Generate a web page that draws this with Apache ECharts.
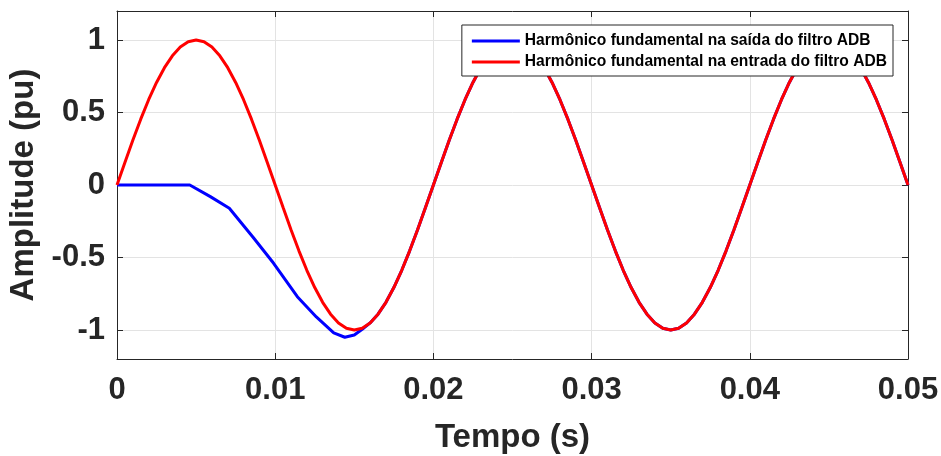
<!DOCTYPE html>
<html>
<head>
<meta charset="utf-8">
<script src="https://cdn.jsdelivr.net/npm/echarts@6/dist/echarts.min.js"></script>
<style>
  html, body { margin: 0; padding: 0; background: #fff; }
  #chart { width: 941px; height: 456px; }
</style>
</head>
<body>
<div id="chart"></div>
<script>
// entrada do filtro (fundamental), lida a cada 0.5 ms
const redTime = [
  0, 0.0005, 0.001, 0.0015, 0.002, 0.0025, 0.003, 0.0035, 0.004, 0.0045,
  0.005, 0.0055, 0.006, 0.0065, 0.007, 0.0075, 0.008, 0.0085, 0.009, 0.0095,
  0.010, 0.0105, 0.011, 0.0115, 0.012, 0.0125, 0.013, 0.0135, 0.014, 0.0145,
  0.015, 0.0155, 0.016, 0.0165, 0.017, 0.0175, 0.018, 0.0185, 0.019, 0.0195,
  0.020, 0.0205, 0.021, 0.0215, 0.022, 0.0225, 0.023, 0.0235, 0.024, 0.0245,
  0.025, 0.0255, 0.026, 0.0265, 0.027, 0.0275, 0.028, 0.0285, 0.029, 0.0295,
  0.030, 0.0305, 0.031, 0.0315, 0.032, 0.0325, 0.033, 0.0335, 0.034, 0.0345,
  0.035, 0.0355, 0.036, 0.0365, 0.037, 0.0375, 0.038, 0.0385, 0.039, 0.0395,
  0.040, 0.0405, 0.041, 0.0415, 0.042, 0.0425, 0.043, 0.0435, 0.044, 0.0445,
  0.045, 0.0455, 0.046, 0.0465, 0.047, 0.0475, 0.048, 0.0485, 0.049, 0.0495, 0.050];
const redAmp = [
  0, 0.156, 0.309, 0.454, 0.588, 0.707, 0.809, 0.891, 0.951, 0.988,
  1, 0.988, 0.951, 0.891, 0.809, 0.707, 0.588, 0.454, 0.309, 0.156,
  0, -0.156, -0.309, -0.454, -0.588, -0.707, -0.809, -0.891, -0.951, -0.988,
  -1, -0.988, -0.951, -0.891, -0.809, -0.707, -0.588, -0.454, -0.309, -0.156,
  0, 0.156, 0.309, 0.454, 0.588, 0.707, 0.809, 0.891, 0.951, 0.988,
  1, 0.988, 0.951, 0.891, 0.809, 0.707, 0.588, 0.454, 0.309, 0.156,
  0, -0.156, -0.309, -0.454, -0.588, -0.707, -0.809, -0.891, -0.951, -0.988,
  -1, -0.988, -0.951, -0.891, -0.809, -0.707, -0.588, -0.454, -0.309, -0.156,
  0, 0.156, 0.309, 0.454, 0.588, 0.707, 0.809, 0.891, 0.951, 0.988,
  1, 0.988, 0.951, 0.891, 0.809, 0.707, 0.588, 0.454, 0.309, 0.156, 0];

// saida do filtro ADB
const blueTime = [
  0, 0.0046, 0.0059, 0.0071, 0.0086, 0.0099, 0.0114, 0.0126, 0.0137, 0.0144,
  0.015, 0.0155, 0.016, 0.0165, 0.017, 0.0175, 0.018, 0.0185, 0.019, 0.0195,
  0.020, 0.0205, 0.021, 0.0215, 0.022, 0.0225, 0.023, 0.0235, 0.024, 0.0245,
  0.025, 0.0255, 0.026, 0.0265, 0.027, 0.0275, 0.028, 0.0285, 0.029, 0.0295,
  0.030, 0.0305, 0.031, 0.0315, 0.032, 0.0325, 0.033, 0.0335, 0.034, 0.0345,
  0.035, 0.0355, 0.036, 0.0365, 0.037, 0.0375, 0.038, 0.0385, 0.039, 0.0395,
  0.040, 0.0405, 0.041, 0.0415, 0.042, 0.0425, 0.043, 0.0435, 0.044, 0.0445,
  0.045, 0.0455, 0.046, 0.0465, 0.047, 0.0475, 0.048, 0.0485, 0.049, 0.0495, 0.050];
const blueAmp = [
  0, 0, -0.08, -0.16, -0.36, -0.54, -0.77, -0.91, -1.02, -1.05,
  -1.035, -0.995, -0.951, -0.891, -0.809, -0.707, -0.588, -0.454, -0.309, -0.156,
  0, 0.156, 0.309, 0.454, 0.588, 0.707, 0.809, 0.891, 0.951, 0.988,
  1, 0.988, 0.951, 0.891, 0.809, 0.707, 0.588, 0.454, 0.309, 0.156,
  0, -0.156, -0.309, -0.454, -0.588, -0.707, -0.809, -0.891, -0.951, -0.988,
  -1, -0.988, -0.951, -0.891, -0.809, -0.707, -0.588, -0.454, -0.309, -0.156,
  0, 0.156, 0.309, 0.454, 0.588, 0.707, 0.809, 0.891, 0.951, 0.988,
  1, 0.988, 0.951, 0.891, 0.809, 0.707, 0.588, 0.454, 0.309, 0.156, 0];

const seriesNames = ['Harmônico fundamental na saída do filtro ADB', 'Harmônico fundamental na entrada do filtro ADB'];

const zip = (xs, ys) => xs.map((x, i) => [x, ys[i]]);

const chart = echarts.init(document.getElementById('chart'));
const font = 'Liberation Sans, Arial, sans-serif';
const axisColor = '#262626';

// eixos de cima e da direita: so a linha e os ticks (caixa estilo matlab)
const boxAxis = {
  axisLine: { show: true, onZero: false, lineStyle: { color: axisColor, width: 1 } },
  axisTick: { show: true, inside: true, length: 6, lineStyle: { color: axisColor } },
  axisLabel: { show: false },
  splitLine: { show: false }
};

const options = {
  backgroundColor: '#fff',
  animation: false,
  grid: { left: 117, right: 33, top: 11, bottom: 97, outerBoundsMode: 'none' },
  legend: {
    data: seriesNames,
    orient: 'vertical',
    right: 48,
    top: 25,
    backgroundColor: '#fff',
    borderColor: axisColor,
    borderWidth: 1,
    padding: [7, 6, 5, 10],
    itemGap: 3,
    itemWidth: 48,
    itemHeight: 3,
    icon: 'rect',
    textStyle: { fontFamily: font, fontWeight: 'bold', fontSize: 15.6, color: '#000', lineHeight: 18 }
  },
  xAxis: [
    {
      type: 'value',
      min: 0,
      max: 0.05,
      interval: 0.01,
      name: 'Tempo (s)',
      nameLocation: 'middle',
      nameGap: 62,
      nameTextStyle: { fontFamily: font, fontWeight: 'bold', fontSize: 33, color: axisColor },
      axisLine: { show: true, onZero: false, lineStyle: { color: axisColor, width: 1 } },
      axisTick: { show: true, inside: true, length: 6, lineStyle: { color: axisColor } },
      axisLabel: { fontFamily: font, fontWeight: 'bold', fontSize: 31, color: axisColor, margin: 16 },
      splitLine: { show: true, lineStyle: { color: '#e3e3e3', width: 1 } }
    },
    Object.assign({ type: 'value', min: 0, max: 0.05, interval: 0.01, position: 'top' }, boxAxis)
  ],
  yAxis: [
    {
      type: 'value',
      min: -1.2,
      max: 1.2,
      splitNumber: 5,
      name: 'Amplitude (pu)',
      nameLocation: 'middle',
      nameGap: 68,
      nameTextStyle: { fontFamily: font, fontWeight: 'bold', fontSize: 33, color: axisColor },
      axisLine: { show: true, onZero: false, lineStyle: { color: axisColor, width: 1 } },
      axisTick: { show: true, inside: true, length: 6, lineStyle: { color: axisColor } },
      axisLabel: {
        fontFamily: font, fontWeight: 'bold', fontSize: 31, color: axisColor, margin: 12,
        showMinLabel: false, showMaxLabel: false
      },
      splitLine: { show: true, lineStyle: { color: '#e3e3e3', width: 1 } }
    },
    Object.assign({ type: 'value', min: -1.2, max: 1.2, splitNumber: 5, position: 'right' }, boxAxis)
  ],
  series: [
    {
      name: seriesNames[0],
      type: 'line',
      data: zip(blueTime, blueAmp),
      showSymbol: false,
      lineStyle: { color: '#0000ff', width: 3 },
      itemStyle: { color: '#0000ff' }
    },
    {
      name: seriesNames[1],
      type: 'line',
      data: zip(redTime, redAmp),
      showSymbol: false,
      lineStyle: { color: '#ff0000', width: 3 },
      itemStyle: { color: '#ff0000' }
    }
  ]
};

chart.setOption(options);
</script>
</body>
</html>
